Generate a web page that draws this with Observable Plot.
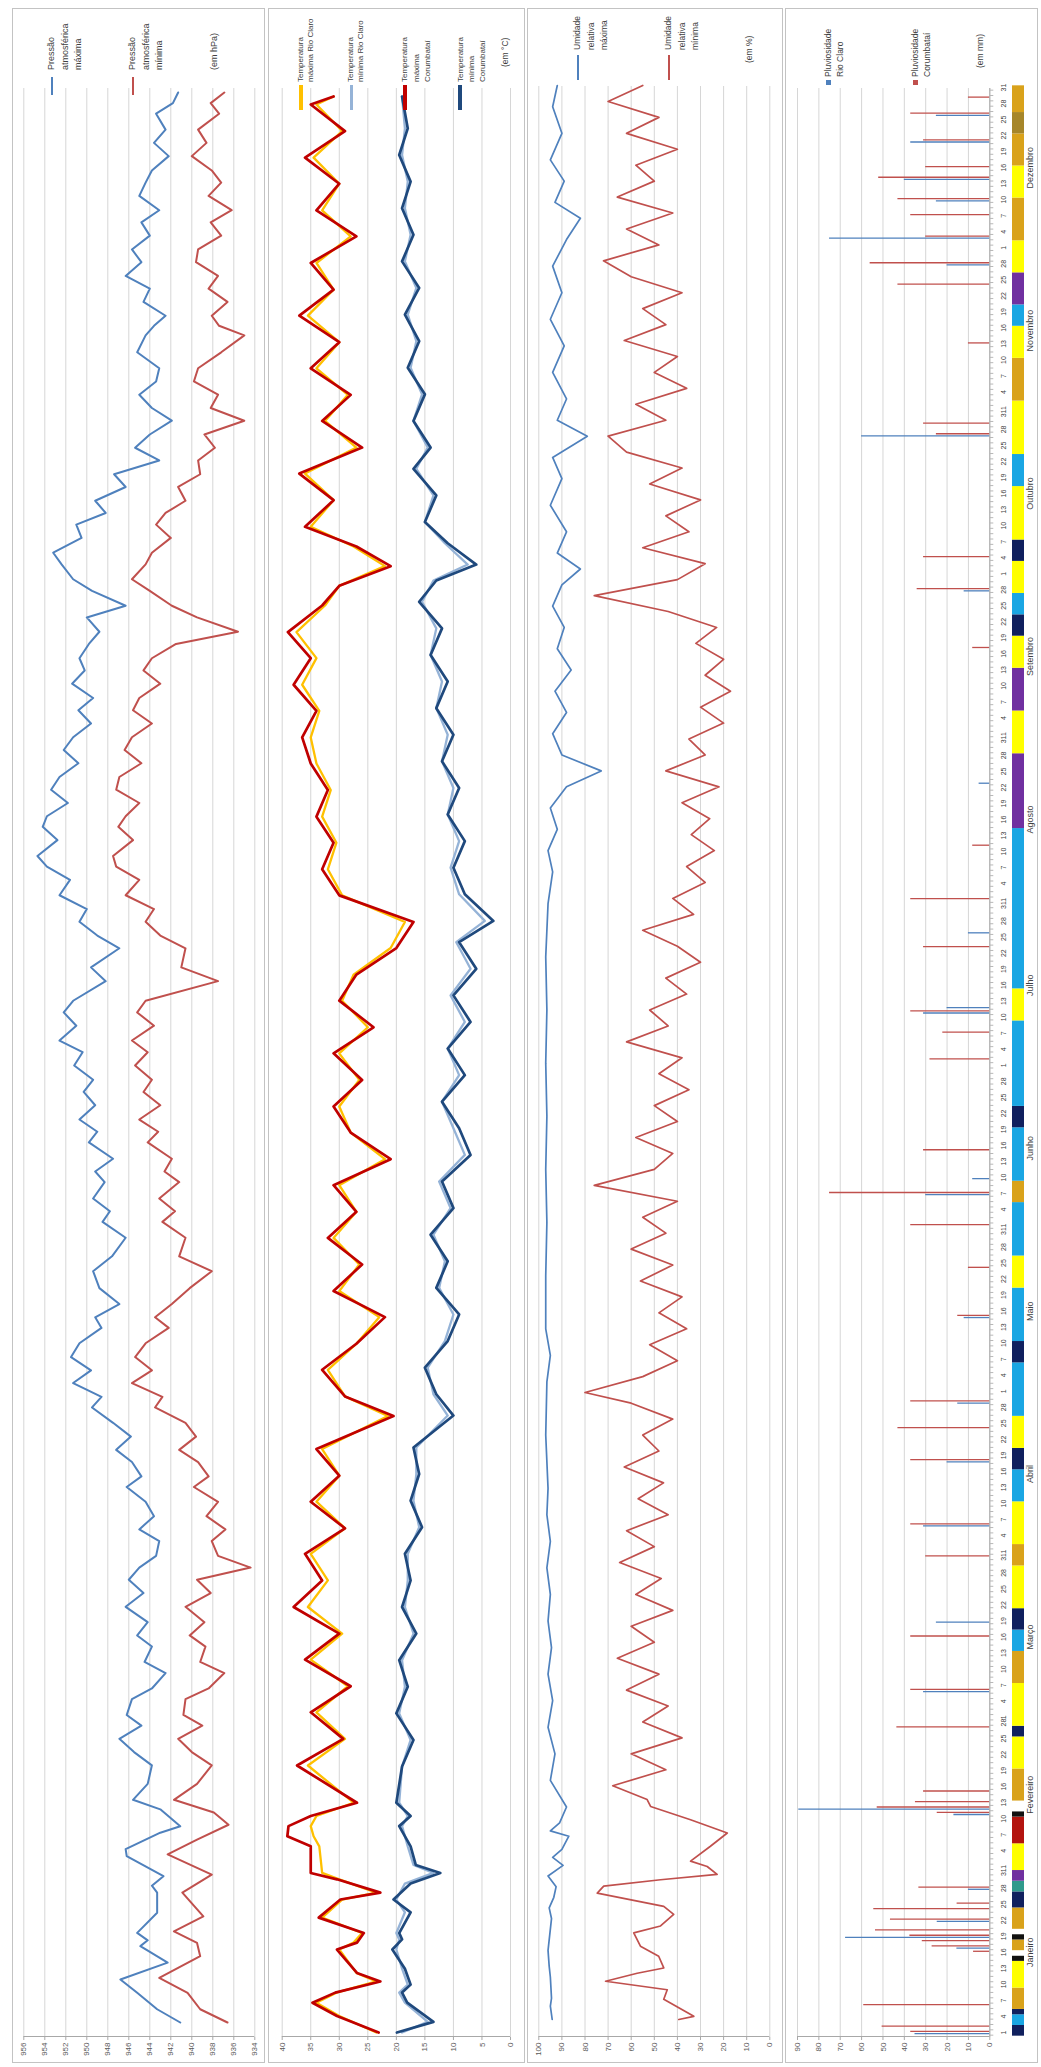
<!DOCTYPE html>
<html lang="pt"><head><meta charset="utf-8">
<script src="https://cdn.jsdelivr.net/npm/d3@7"></script>
<script src="https://cdn.jsdelivr.net/npm/@observablehq/plot@0.6"></script>
<style>
html,body{margin:0;padding:0;background:#fff;}
#page{position:relative;width:1041px;height:2067px;overflow:hidden;background:#fff;}
#land{position:absolute;left:0;top:0;width:2067px;height:1041px;transform-origin:0 0;transform:translate(0,2067px) rotate(-90deg);font-family:"Liberation Sans",Arial,sans-serif;color:#404040;}
.box{position:absolute;border:1px solid #c3c3c3;box-sizing:border-box;}
.lg{position:absolute;white-space:nowrap;color:#404040;}
.mk{position:absolute;}
</style></head><body><div id="page"><div id="land"></div></div>
<script>
// ---------------- DATA (day index 0 = 1 Jan) ----------------
const monthNames = ["Janeiro","Fevereiro","Março","Abril","Maio","Junho","Julho","Agosto","Setembro","Outubro","Novembro","Dezembro"];
const monthLengths = [31,28,31,30,31,30,31,31,30,31,30,31];

const pressureTicks = [956,954,952,950,948,946,944,942,940,938,936,934];
const tempTicks = [40,35,30,25,20,15,10,5,0];
const humTicks = [100,90,80,70,60,50,40,30,20,10,0];
const rainTicks = [90,80,70,60,50,40,30,20,10,0];

// Pressão atmosférica máxima / mínima (hPa)
const pMaxDays = [0,2.5,5.6,8.1,11.3,14.4,15.5,16.9,20.7,24.5,25.8,27.6,31.4,32.7,35.8,37,40.2,42,45,48.5,51,53.5,56,58,61,63,65.9,68,70.9,73,75.5,78.4,81,83.5,85.8,88,90.8,93,95.5,98.2,101,103,105.7,108,110.5,113.1,116,118,120.6,123,125.5,128.1,131,133,135.5,138.5,141.7,144.5,148,151,153,155.4,158.5,160.5,162.9,166,168,170.3,173,175.5,177.8,180.5,183,185.2,188,190.5,192.7,196.4,199,202.6,205,207.6,210,212.6,215.5,218,220,223,225.5,227.5,230,232.5,234.9,237.5,240,242.4,245,247.5,249.8,252.5,255,257.3,260,262.3,265,267.2,270,272.2,275,277.2,280,282.5,284.7,287,289.6,292,294.6,297,299.5,302.1,304.5,307,309.5,312,315,318.2,320,321.9,324.5,327,329.4,332,334.4,337,339.5,341.8,344.5,347,349.3,352,354.5,357,360,362,364];
const pMaxVals = [941.1,943.3,945.2,946.8,942.3,944.9,944.2,945.2,943.3,943.3,943.8,942.7,946.2,946.3,943,941.1,943,945.6,944.2,943.8,945.5,946.9,944.8,946.2,945.7,943.8,942.5,944.5,943.8,945.2,944.2,946.3,944.6,946,945,943.4,943.1,945,943.6,944.4,946.2,944.8,945.7,947.2,945.8,947.5,949.5,948.6,951.3,949.6,951.5,950.7,948.6,949.2,946.9,948.8,949.4,947.6,946.3,948.5,947.8,949.4,948.3,949.2,947.5,949.8,949,950.7,949.2,950.3,949.4,951.2,950.4,952.6,951,952.2,951.3,948.2,949.6,946.9,949,950.7,950,952.6,951.6,953.8,954.7,952.8,954.2,953.8,951.8,953.4,952.6,950.8,952.2,951.3,949.6,950.8,949.4,951.4,950.2,950.7,949.8,948.8,950,946.3,949.5,951.3,952.4,953.2,950.5,951,948.2,949.2,946.3,947.4,943.1,945.4,944,941.9,943.8,945,943.4,943.1,945.2,944.4,943.6,942.5,944.6,944,946.3,944.8,945.7,944,944.8,943.1,945,944.4,943.8,942.2,943.6,942.5,943.4,941.8,941.3];
const pMinDays = [0,2.5,5.6,8.4,12.5,15,17.2,20,24.5,27.9,31.7,34.5,37.3,39.6,42,45,48.5,51,53.5,56,58,61,63,65.9,68,70.9,73,75.5,78.4,81,83.5,85.8,88,90.8,93,95.5,98.2,101,103,105.7,108,110.5,113.1,116,118,120.6,123,125.5,128.1,131,133,135.5,138.5,141.7,144.5,148,151,153,155.4,158.5,160.5,162.9,166,168,170.3,173,175.5,177.8,180.5,183,185.2,188,190.5,192.7,196.4,199,202.6,205,207.6,210,212.6,215.5,218,220,223,225.5,227.5,230,232.5,234.9,237.5,240,242.4,245,247.5,249.8,252.5,255,257.3,260,262.3,265,267.2,270,272.2,275,277.2,280,282.5,284.7,287,289.6,292,294.6,297,299.5,302.1,304.5,307,309.5,312,315,318.2,320,321.9,324.5,327,329.4,332,334.4,337,339.5,341.8,344.5,347,349.3,352,354.5,357,360,362,364];
const pMinVals = [936.6,939.2,940.4,943.1,939.2,939.5,941.7,938.9,940.9,938.1,942.3,939.5,936.5,937.9,941.7,939.5,938.1,940,941.3,939,940.8,940.6,938.4,936.9,939.2,938.7,940.2,938.8,940.6,938.2,939.5,934.4,937.5,938.1,936.8,938.6,937.5,939.8,938.4,939.4,941.2,939.6,940.6,943.5,942.8,945.7,943.8,945.4,944.4,942.2,943.5,941.9,940.2,938.1,941.2,940.6,942.8,941.6,943.1,941.2,942.6,941.9,944.2,943.2,945,943,944.6,943.8,945.4,944.2,945.7,943.6,945.2,944.4,937.5,941,940.6,943,944.4,943.6,946.3,945,947.2,947.5,945.6,947,946.3,945,947.2,946.9,944.8,946.4,945.7,943.8,945.6,945,943,944.6,943.8,941.5,935.6,939.5,941.9,944,945.7,944.4,943.8,942,943.4,942.5,940.6,941.3,939.2,939.4,937.8,938.8,935,938.2,937.5,939.8,939.4,937.2,935,937.4,938.1,936.6,938.4,937.5,939.6,939.4,937.2,938.2,936.2,938.4,937.2,938.1,940,938.6,939.4,937.4,938.2,936.9];

// Temperaturas (°C)
const tMaxDays = [0,3.1,5.6,7.5,9.6,11.2,15.6,16.9,18.7,21.6,25,26.3,28.8,30,35,36.9,38.8,40.7,43.2,50.2,55.2,60.2,65.1,70.1,75,80,85,90,94.8,99.8,104.7,109.7,115.9,119.6,124.6,129.5,134.5,139.4,144.4,149.4,154.3,159.3,164.2,169.2,174.1,179.1,184.1,189,194,198.9,203.9,208.8,213.8,218.7,223.7,228.6,233.6,238.6,243.5,248.5,253.4,258.4,263.3,268.3,272,275.7,279.4,283.1,288.1,293.1,298,303,307.9,312.9,317.8,322.8,327.7,332.7,337.7,342.6,347.6,352.5,357.5,362.5,364];
const tMaxCoVals = [23.1,30.4,34.7,30.7,22.8,26.9,30.4,26.9,25.7,33.6,29.8,22.8,30.4,35,35,39.1,38.9,35,26.9,37.4,29.3,35,28,36,30,38,33,36,29,35,30,34,20.5,29,33,27,22,31,26,32,27,31,21,28,31,26,31,24,30,27,20,17,30,33,31,34,32,35,36.5,34,38,35,39,33,30,21,27,36,31,37,26,33,28,35,30,37,31,35,27,34,30,36,29,35,31];
const tMaxRcVals = [23.5,30,34,30.5,23.5,27,30,27.5,26,33,29.5,23.5,30,33,33.5,34.5,35,34,27.5,35.5,29,34,28.5,35,29.5,35.5,32,35,29,34,30,33,21.5,29,32,27,23,30,26.5,31,27,30,22,28,30,26.5,30,25,29.5,27.5,21,18.5,29.5,32,30.5,33,31.5,34,35,33.5,36.5,34,37.5,32.5,30,22,27.5,35,31,36,27,32.5,28.5,34,30,35.5,31,34,28,33,30,34.5,29.5,34,31];
const tMinDays = [0,2,5.6,7.5,9,12,15.6,17.5,18.7,22.6,25,28,30,31.5,35,38.8,40.7,43.2,50,55,60,65,70,75,80,85,90,95,100,105,110,116,120,125,130,135,140,145,150,155,160,165,170,175,180,185,190,195,200,205,209,214,219,224,229,234,239,244,249,254,259,264,269,273,276,280,284,289,294,298,303,308,313,318,323,328,333,338,343,348,353,358,364];
const tMinCoVals = [19.9,13.5,18.1,19,17.5,18.5,20.7,19,19.5,17.5,20.5,17.5,12.3,16.6,17.5,19.5,17.5,20,19,17,20,18,19.5,16.5,19,17.5,18.5,15.5,17.5,16,17,10,13,15,11,9,13,11,14,10,12,7,9,12,8,11,7,10,6,9,3,8,10,8,11,9,12,10,13,11,14,12,16,13,6,11,15,13,17,14,17,15,18,16,18.5,16,19,17,19,17.5,19.5,18,19];
const tMinRcVals = [19,14.5,18.5,19.5,18,19,20,19.5,20,18.5,20,18.5,13.5,17,18,19,18,19.5,19,17.5,19.5,18.5,19,17,18.5,18,18,16,17,16.5,16.5,11,13.5,14.5,11.5,10,12.5,11.5,13.5,10.5,12.5,8,10,12,9,11,8,10.5,7,9.5,4.5,9,10.5,9,11,10,12,11,13,12,14,13,15.5,13.5,7.5,11.5,15,13.5,16.5,14.5,17,15.5,17.5,16.5,18,16.5,18.5,17.5,18.5,18,19,18.5,19];

// Umidade relativa (%)
const hMaxDays = [0,2.5,4,8,10,13,19,21,23,25,27,29,30.5,32,34.5,35.5,37,40,45,50,55,60,65,70,75,80,85,90,95,100,110,120,125,130,140,150,160,170,180,190,200,210,216,220,224,228,232,235,238,242,246,250,254,258,262,266,270,273,276,280,285,290,294,298,301,305,310,315,320,325,330,335,339,342,346,350,355,360,364];
const hMaxVals = [94.2,95,94.5,95,95.5,96,94.5,95.5,93.5,92.5,96,89.5,94,90,87,95,91,88,95,93,96,94,96,94.5,96,95,96.5,95,96.5,96,97,96.5,95,97,97,96.5,97,96.5,97,96.5,97,96,94,96,92,95,88,73,90,94,88,93,86,92,89,94,90,82,92,88,95,90,94,79,92,88,94,89,95,90,94,88,82,93,89,95,90,94,92];
const hMinDays = [0,0.6,3.8,5.6,7.2,8.7,9.7,11.9,13.8,16.3,17.6,19.8,21.3,23.8,25.1,26.3,27.3,28.8,29.8,32.6,35.1,37.6,40.1,41.4,44,47,50,53,56,59,62,65,68,71,74,77,80,83,86,89,92,95,98,101,104,107,110,113,116,118,121,124,127,130,133,136,139,142,145,148,151,154,157,160,163,166,169,172,175,178,181,184,187,190,193,196,199,202,205,208,211,214,217,220,223,226,229,232,235,238,241,244,247,250,253,256,259,262,265,268,271,274,277,280,283,286,289,292,295,298,301,304,307,310,313,316,319,322,325,328,331,334,337,340,343,346,349,352,355,358,361,364];
const hMinVals = [39.4,32.9,45.9,44.4,71.1,57.4,45.9,48.1,56,58.9,47.3,41.6,45.9,74.7,71.9,47.3,22.8,27.1,34.3,25.7,18.4,34.3,51.6,53.1,68,45,60,38,55,44,62,48,66,50,60,42,58,47,65,50,62,44,57,46,63,48,55,42,60,80,55,40,52,36,48,38,56,42,60,45,55,40,76,50,42,58,40,50,35,48,38,62,44,52,36,45,30,40,55,33,42,28,36,24,34,26,38,22,45,28,35,20,30,17,28,20,32,23,44,76,40,28,55,35,45,30,52,38,62,70,45,58,36,50,40,63,45,55,38,60,72,48,62,42,66,50,58,40,62,48,70,55];

// Pluviosidade (mm)
const rainRcDays = [0,16,18,21,27,41,42,64,77,95,107,118,134,157,160,191,192,206,234,270,299,331,336,343,347,354,359];
const rainRcVals = [35,15.4,67.5,24.6,10,16.8,89.4,31,25,31,20,15,12,30,8,31,20,10,5,12,60,20,75,25,40,37,25];
const rainCoDays = [0,1,5,15,16,17,18,19,21,23,24,27,41,42,43,45,57,64,74,89,95,107,113,118,134,143,151,157,165,182,187,191,203,212,222,259,270,276,299,301,316,327,331,336,340,343,347,349,354,359,362];
const rainCoVals = [37,50.4,59,7.6,27,31.6,37.4,53.5,46.5,54.3,15.3,33.2,24.6,52.7,34.8,31,43.5,37,37,30,37,37,43,37,15,10,37,75,31,28,22,37,31,37,8,8,34,31,25,31,10,43,56,30,37,43,52,30,31,37,10];

// Classificação diária dos sistemas atmosféricos (início do período, tipo)
const bandStart = [0,2,4,5,9,14,15,16,18,19,20,24,27,29,31,36,41,42,44,50,56,58,66,72,76,80,88,92,100,106,110,116,126,130,140,146,156,160,170,174,190,196,226,240,248,256,262,266,270,276,280,290,296,306,314,320,324,330,336,344,350,356,360];
const bandType  = ["A","B","A","C","D","E","F","C","E","F","C","A","G","H","D","I","E","F","C","D","A","D","C","B","A","D","C","D","B","A","D","B","A","B","D","B","C","B","A","B","D","B","H","D","H","D","A","B","D","A","D","B","D","C","D","B","H","D","C","D","C","J","C"];
const bandTypes = ["A","B","C","D","E","F","G","H","I","J"];

// ---------------- DRAWING ----------------
const land = document.getElementById("land");
const W = 2055, LEFT = 4;
const FRAME0 = 30, FRAME1 = 1979;
const styleBase = {fontFamily:'"Liberation Sans", Arial, sans-serif', fontSize:"8px", color:"#595959", background:"transparent", overflow:"visible"};
const COLORS = {blue:"#4F81BD", red:"#C0504D", gold:"#FFC000", dred:"#C00000", lblue:"#95B3D7", navy:"#1F497D"};
const bandColors = ["#10205e","#1aa6e3","#d9a21b","#ffff00","#111111","#ffffff","#2f9a8c","#7030a0","#b3140f","#a6862a"];

const panels = [
  {top:12, h:253, x0:44, x1:1974},
  {top:268, h:257, x0:34, x1:1970},
  {top:527, h:256, x0:47, x1:1981},
  {top:785, h:253, x0:34, x1:1979}
];
panels.forEach(p => {
  const d = document.createElement("div");
  d.className = "box";
  Object.assign(d.style, {left: LEFT + "px", top: p.top + "px", width: W + "px", height: p.h + "px"});
  land.appendChild(d);
});

function frameOf(p) {
  const k = (p.x1 - p.x0) / 364;
  const f1 = Math.max(FRAME1, p.x1);
  return {
    x: {domain: [(FRAME0 - p.x0) / k, 364 + (f1 - p.x1) / k], axis: null},
    marginLeft: FRAME0 - LEFT,
    marginRight: W - (f1 - LEFT)
  };
}
const zip = (days, vals) => days.map((d, i) => ({d, v: vals[i]}));

function mount(svg, top) {
  svg.style.position = "absolute";
  svg.style.left = LEFT + "px";
  svg.style.top = top + "px";
  land.appendChild(svg);
}

function linePanel(p, cfg) {
  const fr = frameOf(p);
  const svg = Plot.plot({
    width: W, height: p.h, marginTop: cfg.mt, marginBottom: cfg.mb, marginLeft: fr.marginLeft, marginRight: fr.marginRight,
    style: styleBase,
    x: fr.x,
    y: {domain: cfg.domain, axis: null},
    marks: [
      Plot.gridY(cfg.ticks, {stroke: "#d6d6d6", strokeOpacity: 1, strokeWidth: 1}),
      Plot.ruleX([fr.x.domain[0]], {stroke: "#a8a8a8"}),
      Plot.axisY(cfg.ticks, {anchor: "left", tickSize: 3, tickPadding: 3, label: null, stroke: "#a8a8a8", fill: "#595959", fontSize: 8}),
      ...cfg.marks
    ]
  });
  mount(svg, p.top);
}

// Panel 1: pressure
linePanel(panels[0], {
  mt: 11.3, mb: 10.7, domain: [934, 956], ticks: pressureTicks,
  marks: [
    Plot.line(zip(pMaxDays, pMaxVals), {x: "d", y: "v", stroke: COLORS.blue, strokeWidth: 2}),
    Plot.line(zip(pMinDays, pMinVals), {x: "d", y: "v", stroke: COLORS.red, strokeWidth: 2})
  ]
});
// Panel 2: temperature
linePanel(panels[1], {
  mt: 13.7, mb: 15, domain: [0, 40], ticks: tempTicks,
  marks: [
    Plot.line(zip(tMaxDays, tMaxRcVals), {x: "d", y: "v", stroke: COLORS.gold, strokeWidth: 2.3}),
    Plot.line(zip(tMinDays, tMinRcVals), {x: "d", y: "v", stroke: COLORS.lblue, strokeWidth: 2.3}),
    Plot.line(zip(tMaxDays, tMaxCoVals), {x: "d", y: "v", stroke: COLORS.dred, strokeWidth: 2.7}),
    Plot.line(zip(tMinDays, tMinCoVals), {x: "d", y: "v", stroke: COLORS.navy, strokeWidth: 2.7})
  ]
});
// Panel 3: humidity
linePanel(panels[2], {
  mt: 11.3, mb: 13.7, domain: [0, 100], ticks: humTicks,
  marks: [
    Plot.line(zip(hMaxDays, hMaxVals), {x: "d", y: "v", stroke: COLORS.blue, strokeWidth: 1.7}),
    Plot.line(zip(hMinDays, hMinVals), {x: "d", y: "v", stroke: COLORS.red, strokeWidth: 1.7})
  ]
});

// Panel 4: rainfall + day axis
const dayTicks = [], dayLabel = new Map();
{
  let start = 0;
  monthLengths.forEach(len => {
    for (let dm = 1; dm <= len; dm += 3) { dayTicks.push(start + dm - 1); dayLabel.set(start + dm - 1, String(dm)); }
    start += len;
  });
}
const allDays = d3.range(365);
{
  const p = panels[3];
  const fr = frameOf(p);
  const mt = 12, mb = 48.7;
  const svg = Plot.plot({
    width: W, height: p.h, marginTop: mt, marginBottom: mb, marginLeft: fr.marginLeft, marginRight: fr.marginRight,
    style: styleBase,
    x: fr.x,
    y: {domain: [0, 90], axis: null},
    marks: [
      Plot.gridY(rainTicks, {stroke: "#d6d6d6", strokeOpacity: 1}),
      Plot.ruleX([fr.x.domain[0]], {stroke: "#a8a8a8"}),
      Plot.axisY(rainTicks, {anchor: "left", tickSize: 3, tickPadding: 3, label: null, stroke: "#a8a8a8", fill: "#595959", fontSize: 8}),
      Plot.ruleX(zip(rainRcDays, rainRcVals), {x: d => d.d - 0.2, y1: 0, y2: "v", stroke: COLORS.blue, strokeWidth: 1.3}),
      Plot.ruleX(zip(rainCoDays, rainCoVals), {x: d => d.d + 0.2, y1: 0, y2: "v", stroke: COLORS.red, strokeWidth: 1.3}),
      Plot.ruleY([0], {stroke: "#a8a8a8"}),
      Plot.axisX(allDays.map(d => d - 0.5), {anchor: "bottom", tickSize: 4, text: null, stroke: "#b8b8b8", label: null}),
      Plot.axisX(dayTicks, {anchor: "bottom", tickSize: 0, tickPadding: 11, label: null, fontSize: 7, fill: "#404040", tickFormat: d => dayLabel.get(d)})
    ]
  });
  mount(svg, p.top);

  // band of daily atmospheric systems + month names
  const runs = bandStart.map((s, i) => ({s: s - 0.5, e: (i + 1 < bandStart.length ? bandStart[i + 1] : 365) - 0.5, t: bandType[i]}));
  const monthMid = [], monthAt = new Map();
  {
    let start = 0;
    monthLengths.forEach((len, i) => { const m = start + len / 2 - 0.5; monthMid.push(m); monthAt.set(m, monthNames[i]); start += len; });
  }
  const band = Plot.plot({
    width: W, height: 25, marginTop: 0, marginBottom: 13, marginLeft: fr.marginLeft, marginRight: fr.marginRight,
    style: styleBase,
    x: fr.x,
    color: {domain: bandTypes, range: bandColors},
    marks: [
      Plot.barX(runs, {x1: "s", x2: "e", fill: "t"}),
      Plot.axisX(monthMid, {anchor: "bottom", tickSize: 0, tickPadding: 2, label: null, fontSize: 9, fill: "#404040", tickFormat: d => monthAt.get(d)})
    ]
  });
  mount(band, 1012);
}

// ---------------- LEGENDS (HTML text) ----------------
function legend(x, y, lines, font, lh, marker) {
  const t = document.createElement("div");
  t.className = "lg";
  t.style.fontSize = font + "px";
  t.style.lineHeight = lh + "px";
  t.style.left = x + "px";
  t.style.top = (y - lh / 2) + "px";
  t.innerHTML = lines.join("<br>");
  land.appendChild(t);
  if (marker) {
    const m = document.createElement("div");
    m.className = "mk";
    if (marker.sq) {
      Object.assign(m.style, {left: marker.x1 + "px", top: (y - 2.5) + "px", width: "5px", height: "5px", background: marker.c});
    } else {
      Object.assign(m.style, {left: marker.x1 + "px", top: (y - marker.w / 2) + "px", width: (marker.x2 - marker.x1) + "px", height: marker.w + "px", background: marker.c});
    }
    land.appendChild(m);
  }
}
legend(1997, 52, ["Pressão", "atmosférica", "máxima"], 9, 13.5, {x1: 1972, x2: 1990, w: 2, c: COLORS.blue});
legend(1997, 133, ["Pressão", "atmosférica", "mínima"], 9, 13.5, {x1: 1972, x2: 1990, w: 2, c: COLORS.red});
legend(1997, 215, ["(em hPa)"], 9, 13.5);

legend(1985, 301, ["Temperatura", "máxima Rio Claro"], 8, 10.5, {x1: 1957, x2: 1982, w: 4, c: COLORS.gold});
legend(1985, 351, ["Temperatura", "mínima Rio Claro"], 8, 10.5, {x1: 1957, x2: 1982, w: 3, c: COLORS.lblue});
legend(1985, 405, ["Temperatura", "máxima", "Corumbataí"], 8, 11.5, {x1: 1957, x2: 1982, w: 4, c: COLORS.dred});
legend(1985, 460, ["Temperatura", "mínima", "Corumbataí"], 8, 11, {x1: 1957, x2: 1982, w: 4, c: COLORS.navy});
legend(2000, 505, ["(em °C)"], 8.5, 11);

legend(2017, 578, ["Umidade", "relativa", "máxima"], 8.5, 13.5, {x1: 1987, x2: 2012, w: 2, c: COLORS.blue});
legend(2017, 669, ["Umidade", "relativa", "mínima"], 8.5, 13.5, {x1: 1987, x2: 2012, w: 2, c: COLORS.red});
legend(2004, 750, ["(em %)"], 8.5, 13.5);

legend(1990, 828, ["Pluviosidade", "Rio Claro"], 8.5, 12.5, {sq: true, x1: 1982, c: COLORS.blue});
legend(1990, 915, ["Pluviosidade", "Corumbataí"], 8.5, 12.5, {sq: true, x1: 1982, c: COLORS.red});
legend(1999, 980, ["(em mm)"], 8.5, 12.5);
</script></body></html>
